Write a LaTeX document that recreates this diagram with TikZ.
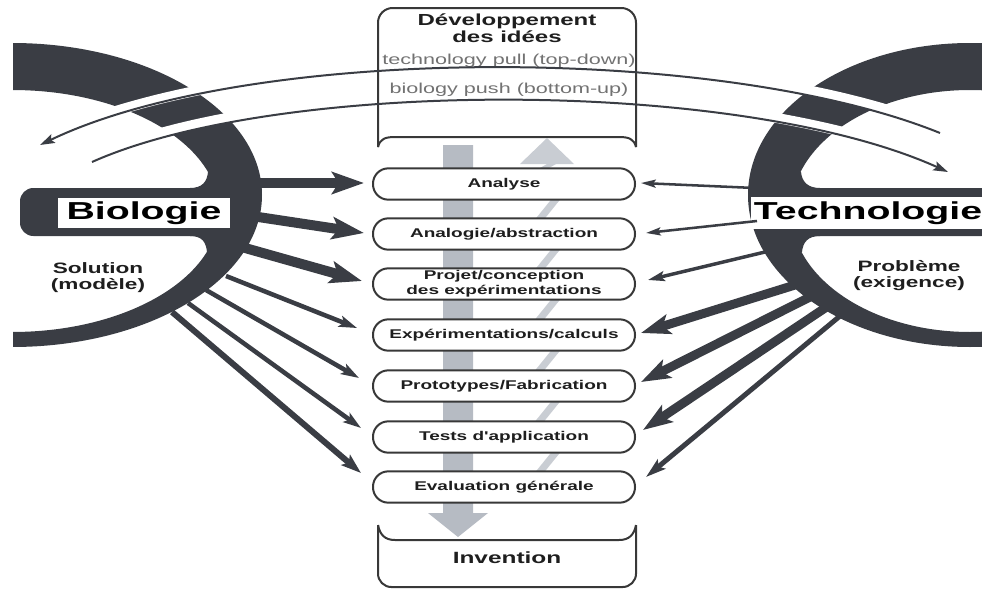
\documentclass[tikz,border=0pt]{standalone}
\usepackage{fontspec}
\setmainfont{Liberation Sans}
\newfontfamily\wf[FakeStretch=1.5]{Liberation Sans}
\newfontfamily\wfb[FakeStretch=1.6]{Liberation Sans}
\usetikzlibrary{arrows.meta,calc}
\definecolor{ink}{HTML}{3A3D44}
\definecolor{txt}{HTML}{1E1E1E}
\definecolor{gtxt}{HTML}{727272}
\definecolor{edge}{HTML}{383838}
\definecolor{dgray}{HTML}{B6BBC3}
\definecolor{lgray}{HTML}{C9CDD3}
\begin{document}
\begin{tikzpicture}[x=0.75pt,y=-0.75pt,
  stage/.style={draw=edge, line width=1.5pt, fill=white, rounded corners=11.5pt,
    minimum width=196.5pt, minimum height=23.5pt, inner sep=0pt,
    font=\wf\bfseries\fontsize{9.5pt}{11pt}\selectfont, text=txt, align=center},
  bigL/.style={draw=ink, line width=7.5pt, -{Stealth[length=24pt,width=16.5pt,inset=5pt]}},
  thinL/.style={draw=ink, line width=3.4pt, -{Stealth[length=13.5pt,width=8.5pt,inset=3pt]}},
  midL/.style={draw=ink, line width=4.5pt, -{Stealth[length=15pt,width=10pt,inset=3pt]}},
  hairR/.style={draw=ink, line width=1.9pt, -{Stealth[length=11pt,width=6pt,inset=2pt]}},
  smallR/.style={draw=ink, line width=2.6pt, -{Stealth[length=12.5pt,width=7.5pt,inset=2.5pt]}},
  bigR/.style={draw=ink, line width=6.75pt, -{Stealth[length=22pt,width=15pt,inset=5pt]}},
  midR/.style={draw=ink, line width=3.75pt, -{Stealth[length=15pt,width=9pt,inset=3pt]}},
  arcline/.style={draw=ink, line width=1.5pt},
  halo/.style={draw=white, line width=7.5pt, yshift=3.75pt},
  title/.style={font=\wf\bfseries\fontsize{12pt}{12.75pt}\selectfont, text=txt, align=center, inner sep=0pt},
  flowtxt/.style={font=\wf\fontsize{10.8pt}{12pt}\selectfont, text=gtxt, inner sep=0pt},
  sidetxt/.style={font=\wf\bfseries\fontsize{11.3pt}{12pt}\selectfont, text=txt, align=center, inner sep=0pt},
  bigtxt/.style={font=\wfb\bfseries\fontsize{18.4pt}{20pt}\selectfont, text=black, fill=white, inner sep=0pt}
]
\useasboundingbox (0,0) rectangle (982,589);
\clip (0,0) rectangle (982,589);

% ---------- left ring (Biologie) ----------
\begin{scope}
  \clip (13,0) rectangle (400,589);
  \fill[ink, even odd rule] (12,195) ellipse [x radius=250, y radius=152]
                            (12,211) ellipse [x radius=207, y radius=121];
\end{scope}
\fill[ink, rounded corners=10pt] (20,188) rectangle (240,236);
\fill[ink] (190,188) .. controls (202,188) and (207,182) .. (208,172) -- (225,172) -- (225,188) -- cycle;
\fill[ink] (190,236) .. controls (202,236) and (206,242) .. (207,252) -- (225,252) -- (225,236) -- cycle;

% ---------- right ring (Technologie) ----------
\begin{scope}
  \clip (600,0) rectangle (982,589);
  \fill[ink, even odd rule] (970,195) ellipse [x radius=222, y radius=152]
                            (970,211) ellipse [x radius=179, y radius=121];
\end{scope}
\fill[ink, rounded corners=10pt] (770,188) rectangle (995,236);
\fill[ink] (820,188) .. controls (808,188) and (802,182) .. (801,172) -- (785,172) -- (785,188) -- cycle;
\fill[ink] (820,236) .. controls (808,236) and (803,242) .. (802,252) -- (785,252) -- (785,236) -- cycle;

% ---------- white gaps where the long arcs cross the rings ----------
\begin{scope}
  \clip (0,0) rectangle (330,589) (690,0) rectangle (982,589);
  \draw[halo] (940,133) .. controls (720,44) and (250,44) .. (40,145);
  \draw[halo] (92,162) .. controls (280,78) and (740,78) .. (948,172);
\end{scope}

% ---------- side labels ----------
\node[bigtxt, minimum width=129pt, minimum height=22.5pt] (bio) at (144,213) {Biologie};
\node[bigtxt, minimum width=176pt, minimum height=24pt] (tec) at (868,213) {Technologie};
\node[sidetxt] (sol) at (98,278) {Solution\\(modèle)};
\node[sidetxt] (pro) at (909,276) {Problème\\(exigence)};

% ---------- top box ----------
\draw[edge, line width=1.5pt, rounded corners=11pt] (378,147) -- (378,8) -- (636,8) -- (636,147);
\draw[edge, line width=1.5pt] (378,147) .. controls (380,139) and (385,137) .. (395,137) -- (619,137)
   .. controls (629,137) and (634,139) .. (636,147);
\node[title] (dev) at (507,28) {Développement\\des idées};
\node[flowtxt] (pull) at (509,61) {technology pull (top-down)};
\node[flowtxt] (push) at (509,90) {biology push (bottom-up)};

% ---------- long arcs ----------
\coordinate (p1) at (940,133); \coordinate (p2) at (40,145);
\coordinate (q1) at (92,162);  \coordinate (q2) at (948,172);
\draw[arcline, -{Stealth[length=11pt,width=7pt,inset=2pt]}] (p1) .. controls (720,44) and (250,44) .. (p2);
\draw[arcline, -{Stealth[length=11pt,width=7pt,inset=2pt]}] (q1) .. controls (280,78) and (740,78) .. (q2);

% ---------- bottom box ----------
\draw[edge, line width=1.5pt] (378,525) .. controls (380,535) and (385,540) .. (395,540) -- (619,540)
   .. controls (629,540) and (634,535) .. (636,525);
\draw[edge, line width=1.5pt, rounded corners=10pt] (378,525) -- (378,587) -- (636,587) -- (636,525);
\node[title, font=\wf\bfseries\fontsize{12.2pt}{13pt}\selectfont] (inv) at (507,558) {Invention};

% ---------- vertical grey arrows ----------
\fill[dgray] (443,145) -- (473,145) -- (473,513) -- (488,513) -- (458,537) -- (428,513) -- (443,513) -- cycle;
\fill[lgray] (520,164) -- (547,138) -- (574,164) -- cycle;
\foreach \yb/\yt in {172/160, 222/196, 272/246, 322/296, 373/347, 424/398, 475/449}{
  \fill[lgray] (533,\yb) -- (542,\yb) -- (563,\yt) -- (554,\yt) -- cycle;
}

% ---------- stages ----------
\node[stage] (b1) at (504,184) {Analyse};
\node[stage] (b2) at (504,234) {Analogie/abstraction};
\node[stage] (b3) at (504,284) {Projet/conception\\des expérimentations};
\node[stage] (b4) at (504,335) {Expérimentations/calculs};
\node[stage] (b5) at (504,386) {Prototypes/Fabrication};
\node[stage] (b6) at (504,437) {Tests d'application};
\node[stage] (b7) at (504,487) {Evaluation générale};

% ---------- arrows from Biologie ----------
\coordinate (l1) at (250,183); \coordinate (l2) at (245,215); \coordinate (l3) at (238,246);
\coordinate (l4) at (226,276); \coordinate (l5) at (206,290); \coordinate (l6) at (188,303);
\coordinate (l7) at (172,312);
\draw[bigL] (l1) -- ([shift={(-8,-1)}]b1.west);
\draw[bigL] (l2) -- ([shift={(-8,-1)}]b2.west);
\draw[bigL] (l3) -- ([shift={(-10,-3)}]b3.west);
\draw[thinL] (l4) -- ([shift={(-15,-7)}]b4.west);
\draw[thinL] (l5) -- ([shift={(-13,-8)}]b5.west);
\draw[thinL] (l6) -- ([shift={(-11,-9)}]b6.west);
\draw[midL] (l7) -- ([shift={(-11,-14)}]b7.west);

% ---------- arrows from Technologie ----------
\coordinate (r1) at (755,188); \coordinate (r2) at (757,221); \coordinate (r3) at (765,252);
\coordinate (r4) at (795,285); \coordinate (r5) at (812,296); \coordinate (r6) at (828,306);
\coordinate (r7) at (840,316);
\draw[hairR] (r1) -- ([shift={(5,-1)}]b1.east);
\draw[hairR] (r2) -- ([shift={(10,-1)}]b2.east);
\draw[smallR] (r3) -- ([shift={(12,-4)}]b3.east);
\draw[bigR] (r4) -- ([shift={(5,-2)}]b4.east);
\draw[bigR] (r5) -- ([shift={(5,-4)}]b5.east);
\draw[bigR] (r6) -- ([shift={(7,-7)}]b6.east);
\draw[midR] (r7) -- ([shift={(10,-10)}]b7.east);
\end{tikzpicture}
\end{document}
